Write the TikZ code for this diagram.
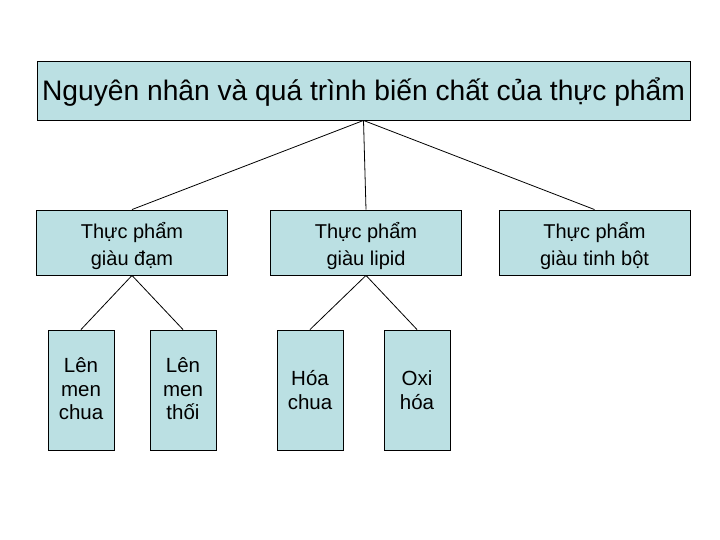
\documentclass[tikz,border=0pt]{standalone}
\usepackage{fontspec}
\setmainfont{Liberation Sans}
\definecolor{boxfill}{RGB}{187,224,227}
\tikzset{
  box/.style={draw=black, line width=0.9pt, fill=boxfill, inner sep=0pt},
  txt/.style={inner sep=0pt, align=center},
  topbox/.style={box, minimum width=653pt, minimum height=59pt},
  midbox/.style={box, minimum width=191pt, minimum height=65pt},
  lowbox/.style={box, minimum width=66pt, minimum height=120pt},
  toptxt/.style={txt, font=\fontsize{28.2}{32}\selectfont},
  midtxt/.style={txt, font=\fontsize{20}{27}\selectfont},
  lowtxt/.style={txt, font=\fontsize{20.5}{23.5}\selectfont},
  link/.style={draw=black, line width=0.8pt}
}
\begin{document}
\begin{tikzpicture}[x=1pt,y=-1pt]
\useasboundingbox (0,0) rectangle (720,540);
\node[topbox] (top) at (363.5,90.5) {};
\node[toptxt] (toptext) at (363.5,92.5) {Nguyên nhân và quá trình biến chất của thực phẩm};
\node[midbox] (dam) at (132,242.5) {};
\node[midbox] (lipid) at (366,242.5) {};
\node[midbox] (bot) at (594.5,242.5) {};
\node[midtxt] (damtext) at (132,246.5) {Thực phẩm\\giàu đạm};
\node[midtxt] (lipidtext) at (366,246.5) {Thực phẩm\\giàu lipid};
\node[midtxt] (bottext) at (594.5,246.5) {Thực phẩm\\giàu tinh bột};
\node[lowbox] (chua) at (81,390) {};
\node[lowbox] (thoi) at (183,390) {};
\node[lowbox] (hoa) at (310,390) {};
\node[lowbox] (oxi) at (417,390) {};
\node[lowtxt] (chuatext) at (81,389) {Lên\\men\\chua};
\node[lowtxt] (thoitext) at (183,389) {Lên\\men\\thối};
\node[lowtxt] (hoatext) at (310,390) {Hóa\\chua};
\node[lowtxt] (oxitext) at (417,390) {Oxi\\hóa};
\draw[link] (top.south) -- (dam.north);
\draw[link] (top.south) -- (lipid.north);
\draw[link] (top.south) -- (bot.north);
\draw[link] (dam.south) -- (chua.north);
\draw[link] (dam.south) -- (thoi.north);
\draw[link] (lipid.south) -- (hoa.north);
\draw[link] (lipid.south) -- (oxi.north);
\end{tikzpicture}
\end{document}
